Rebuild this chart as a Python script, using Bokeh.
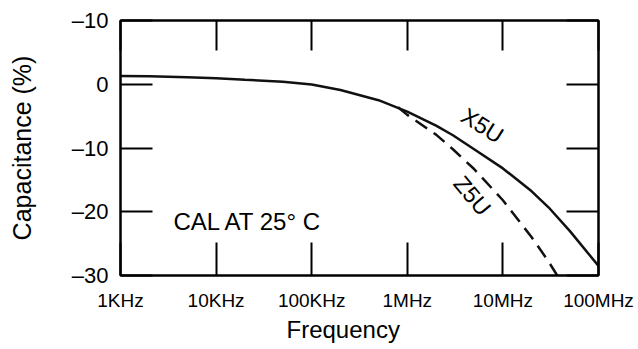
import math
from bokeh.plotting import figure
from bokeh.models import Range1d, FixedTicker, LogAxis, LinearAxis, Label, Title
from bokeh.embed import file_html
from bokeh.resources import INLINE

FONT = "Liberation Sans"

# axis ticks and labels
freq_ticks = [1000, 10000, 100000, 1000000, 10000000, 100000000]
freq_labels = ["1KHz", "10KHz", "100KHz", "1MHz", "10MHz", "100MHz"]
cap_ticks = [10, 0, -10, -20, -30]
cap_labels = ["–10", "0", "–10", "–20", "–30"]

# X5U curve (solid)
x5u_freq = [1e3, 2e3, 5e3, 1e4, 2e4, 5e4, 1e5, 2e5, 5e5, 1e6, 2e6, 3e6, 5e6,
            1e7, 2e7, 3e7, 5e7, 1e8]
x5u_cap = [1.3, 1.25, 1.1, 0.95, 0.7, 0.4, -0.05, -0.9, -2.5, -4.3, -6.5, -8.0,
           -10.2, -13.2, -16.8, -19.3, -23.0, -28.5]

# Z5U curve (dashed)
z5u_freq = [8e5, 1e6, 2e6, 3e6, 5e6, 1e7, 2e7, 3e7, 3.7e7]
z5u_cap = [-3.6, -4.8, -7.9, -10.2, -13.3, -18.2, -24.0, -27.8, -30.0]

p = figure(width=638, height=349, x_axis_type="log",
           x_range=Range1d(1e3, 1e8), y_range=Range1d(-30, 10),
           output_backend="svg", toolbar_location=None,
           min_border_left=120, min_border_right=40,
           min_border_top=20, min_border_bottom=74)
p.background_fill_color = "white"
p.border_fill_color = "white"
p.outline_line_color = "black"
p.outline_line_width = 2
p.xgrid.visible = False
p.ygrid.visible = False

xa = p.xaxis[0]
xa.ticker = FixedTicker(ticks=freq_ticks)
xa.major_label_overrides = {t: l for t, l in zip(freq_ticks, freq_labels)}
xa.major_tick_in = 33
xa.major_tick_out = 0
xa.major_tick_line_width = 2
xa.minor_tick_line_color = None
xa.axis_line_width = 2
xa.major_label_standoff = 14
xa.major_label_text_font = FONT
xa.major_label_text_font_size = "19px"
xa.major_label_text_color = "black"

ya = p.yaxis[0]
ya.ticker = FixedTicker(ticks=cap_ticks)
ya.major_label_overrides = {t: l for t, l in zip(cap_ticks, cap_labels)}
ya.major_tick_in = 32
ya.major_tick_out = 0
ya.major_tick_line_width = 2
ya.minor_tick_line_color = None
ya.axis_line_width = 2
ya.major_label_standoff = 12
ya.major_label_text_font = FONT
ya.major_label_text_font_size = "22px"
ya.major_label_text_color = "black"
ya.axis_label = "Capacitance (%)"
ya.axis_label_text_font = FONT
ya.axis_label_text_font_size = "25px"
ya.axis_label_text_font_style = "normal"
ya.axis_label_text_color = "black"
ya.axis_label_standoff = 33

top = LogAxis(ticker=FixedTicker(ticks=freq_ticks), major_tick_in=30,
              major_tick_out=0, major_tick_line_width=2,
              minor_tick_line_color=None, axis_line_width=2,
              major_label_text_font_size="2px", major_label_text_alpha=0,
              major_label_standoff=0)
p.add_layout(top, "above")
right = LinearAxis(ticker=FixedTicker(ticks=cap_ticks), major_tick_in=32,
                   major_tick_out=0, major_tick_line_width=2,
                   minor_tick_line_color=None, axis_line_width=2,
                   major_label_text_font_size="2px", major_label_text_alpha=0,
                   major_label_standoff=0)
p.add_layout(right, "right")

p.add_layout(Title(text="Frequency", align="left", offset=166, standoff=0,
                   text_font=FONT, text_font_size="24px",
                   text_font_style="normal", text_color="black"), "below")

p.line(x5u_freq, x5u_cap, line_color="#111111", line_width=2.5)
p.line(z5u_freq, z5u_cap, line_color="#111111", line_width=2.5,
       line_dash="14 8")

p.add_layout(Label(x=6.1e6, y=-6.5, text="X5U", angle=-32, angle_units="deg",
                   text_align="center", text_baseline="middle",
                   text_font=FONT, text_font_size="23px", text_color="black"))
p.add_layout(Label(x=4.8e6, y=-17.5, text="Z5U", angle=-50, angle_units="deg",
                   text_align="center", text_baseline="middle",
                   text_font=FONT, text_font_size="23px", text_color="black"))
p.add_layout(Label(x=3.58e3, y=-21.55, text="CAL AT 25° C",
                   text_align="left", text_baseline="alphabetic",
                   text_font=FONT, text_font_size="24px", text_color="black"))

open("out.html", "w").write(file_html(p, INLINE))
